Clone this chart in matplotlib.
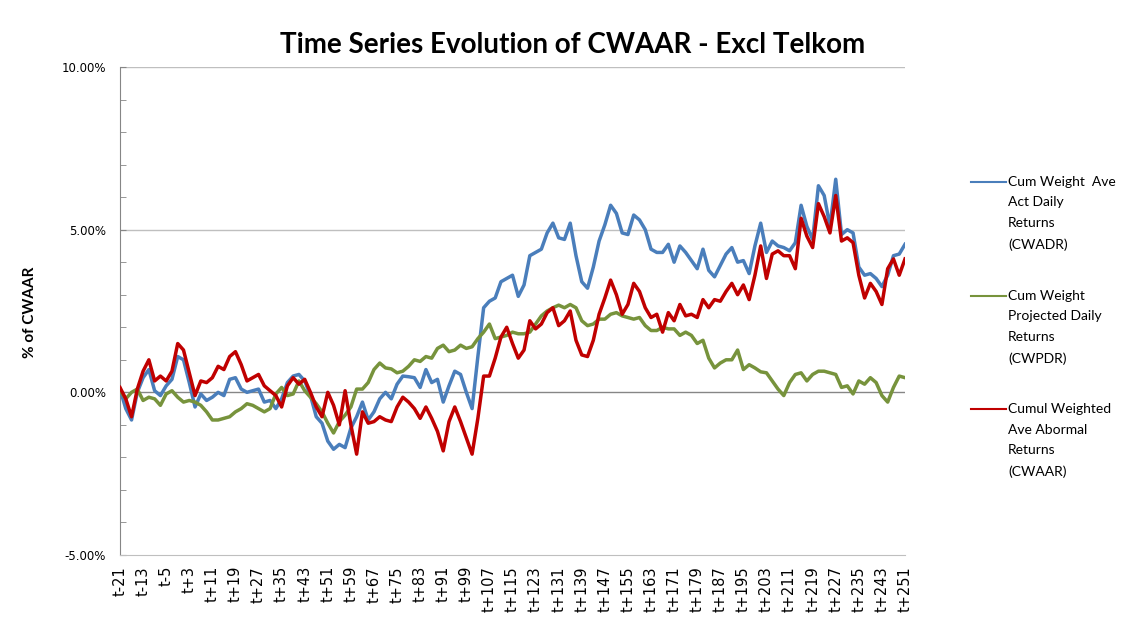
import numpy as np
import matplotlib
matplotlib.use('Agg')
import matplotlib.pyplot as plt
from matplotlib.lines import Line2D

# event days t-21 ... t+251 (read every 2nd day off the chart)
t = np.arange(-21, 252, 2)

# Cum Weight Ave Act Daily Returns (CWADR), %
cwadr = [0.1, -0.5, -0.85, 0.0, 0.45, 0.7, 0.05, -0.1, 0.2, 0.4, 1.1, 1.0, 0.3, -0.45, -0.05, -0.25,
         -0.15, 0.0, -0.1, 0.4, 0.45, 0.1, 0.0,
         0.05, 0.1, -0.3, -0.25, -0.5, -0.2, 0.3, 0.5, 0.55, 0.35, -0.1, -0.75, -0.95, -1.5, -1.75,
         -1.6, -1.7, -1.1, -0.75, -0.3, -0.85, -0.6, -0.2,
         0.0, -0.2, 0.25, 0.5, 0.48, 0.45, 0.15, 0.7, 0.3, 0.4, -0.3, 0.2, 0.65, 0.55, 0.0, -0.5,
         1.1, 2.6, 2.8, 2.9, 3.4, 3.5, 3.6,
         2.95, 3.3, 4.2, 4.3, 4.4, 4.9, 5.2, 4.75, 4.7, 5.2, 4.2, 3.4, 3.2, 3.85, 4.65, 5.15, 5.75,
         5.5, 4.9, 4.85, 5.45, 5.3,
         5.0, 4.4, 4.3, 4.3, 4.55, 4.0, 4.5, 4.3, 4.05, 3.8, 4.4, 3.75, 3.55, 3.9, 4.25, 4.45, 4.0,
         4.05, 3.65, 4.5, 5.2, 4.3,
         4.65, 4.5, 4.45, 4.35, 4.6, 5.75, 5.1, 4.7, 6.35, 6.05, 5.1, 6.55, 4.85, 5.0, 4.9, 3.85,
         3.6, 3.65, 3.5, 3.25, 3.6, 4.2, 4.25, 4.55]

# Cum Weight Projected Daily Returns (CWPDR), %
cwpdr = [0.05, -0.2, 0.0, 0.1, -0.25, -0.15, -0.2, -0.4, -0.05, 0.05, -0.15, -0.3, -0.25, -0.3,
         -0.4, -0.6, -0.85, -0.85, -0.8, -0.75, -0.6, -0.5, -0.35,
         -0.4, -0.5, -0.6, -0.5, -0.05, 0.15, -0.1, -0.05, 0.35, 0.05, -0.15, -0.35, -0.6, -0.95,
         -1.25, -0.9, -0.7, -0.45, 0.1, 0.1, 0.3, 0.7, 0.9,
         0.75, 0.72, 0.6, 0.65, 0.8, 1.0, 0.95, 1.1, 1.05, 1.35, 1.45, 1.25, 1.3, 1.45, 1.35, 1.4,
         1.65, 1.85, 2.1, 1.65, 1.7, 1.75, 1.85,
         1.8, 1.8, 1.85, 2.1, 2.35, 2.5, 2.6, 2.68, 2.6, 2.7, 2.6, 2.2, 2.05, 2.1, 2.25, 2.25, 2.4,
         2.45, 2.35, 2.3, 2.25, 2.3,
         2.05, 1.9, 1.9, 2.0, 1.95, 1.95, 1.75, 1.85, 1.75, 1.5, 1.6, 1.05, 0.75, 0.9, 1.0, 1.0,
         1.3, 0.7, 0.85, 0.75, 0.63, 0.6,
         0.35, 0.1, -0.1, 0.3, 0.55, 0.6, 0.35, 0.55, 0.65, 0.65, 0.6, 0.55, 0.15, 0.2, -0.05, 0.35,
         0.25, 0.45, 0.3, -0.1, -0.3, 0.15, 0.5, 0.45]

# Cumul Weighted Ave Abnormal Returns (CWAAR), %
cwaar = [0.15, -0.2, -0.75, 0.1, 0.65, 1.0, 0.35, 0.5, 0.35, 0.65, 1.5, 1.3, 0.6, -0.1, 0.35, 0.3,
         0.45, 0.8, 0.7, 1.1, 1.25, 0.85, 0.35,
         0.45, 0.55, 0.2, 0.05, -0.1, -0.45, 0.2, 0.45, 0.25, 0.4, 0.0, -0.45, -0.75, 0.0, -0.4,
         -1.0, 0.05, -1.0, -1.9, -0.6, -0.95, -0.9, -0.75,
         -0.85, -0.9, -0.45, -0.15, -0.3, -0.5, -0.8, -0.45, -0.8, -1.2, -1.8, -0.9, -0.45, -0.9,
         -1.4, -1.9, -0.8, 0.5, 0.5, 1.05, 1.7, 2.0, 1.5,
         1.05, 1.3, 2.2, 1.95, 2.1, 2.45, 2.6, 2.05, 2.2, 2.5, 1.6, 1.15, 1.1, 1.6, 2.4, 2.9, 3.45,
         3.0, 2.4, 2.7, 3.35, 3.1,
         2.6, 2.3, 2.4, 1.85, 2.45, 2.2, 2.7, 2.35, 2.4, 2.3, 2.85, 2.6, 2.85, 2.8, 3.1, 3.35, 3.0,
         3.3, 2.85, 3.6, 4.5, 3.5,
         4.25, 4.35, 4.2, 4.2, 3.8, 5.35, 4.8, 4.45, 5.8, 5.4, 4.9, 6.05, 4.65, 4.75, 4.6, 3.6,
         2.9, 3.35, 3.1, 2.7, 3.8, 4.1, 3.6, 4.1]

labels = ['Cum Weight  Ave\nAct Daily\nReturns\n(CWADR)',
          'Cum Weight\nProjected Daily\nReturns\n(CWPDR)',
          'Cumul Weighted\nAve Abormal\nReturns\n(CWAAR)']
colors = ['#4A7EBB', '#77933C', '#C00000']

W, H = 1134, 619
fig = plt.figure(figsize=(W / 100, H / 100), dpi=100)
ax = fig.add_axes([120 / W, 1 - 555 / H, 785 / W, 488 / H])

for y, c in zip([cwadr, cwpdr, cwaar], colors):
    ax.plot(t, y, color=c, lw=2.5, solid_joinstyle='round', zorder=3)

ax.set_xlim(-21, 251)
ax.set_ylim(-5, 10)

# gridlines / axis lines like the Excel chart
for v in (5, 10):
    ax.axhline(v, color='#BFBFBF', lw=1.0, zorder=1)
ax.axhline(0, color='#868686', lw=1.0, zorder=2)

for s in ('top', 'right'):
    ax.spines[s].set_visible(False)
ax.spines['left'].set_color('#868686')
ax.spines['bottom'].set_color('#BFBFBF')

yt = [-5, 0, 5, 10]
ax.set_yticks(yt)
ax.set_yticklabels(['%.2f%%' % v for v in yt], fontsize=8.5, family='DejaVu Sans')
ax.set_yticks(np.arange(-5, 11, 1), minor=True)
ax.tick_params(axis='y', which='both', direction='in', length=4, color='#868686', pad=10)

xt = np.arange(-21, 252, 8)
ax.set_xticks(xt)
ax.set_xticklabels(['t%+d' % v if v != 0 else 't' for v in xt], rotation=90,
                   fontsize=10.5, family='DejaVu Sans')
ax.tick_params(axis='x', length=0, pad=8)

fig.text(0.505, 1 - 45 / H, 'Time Series Evolution of CWAAR - Excl Telkom', ha='center',
         va='center', fontsize=20, fontweight='bold', family='Lato')
fig.text(30 / W, 1 - 312 / H, '% of CWAAR', rotation=90, ha='center', va='center',
         fontsize=11, fontweight='bold', family='Lato')

# legend at the right, sample line next to first text line
for lab, c, ypx in zip(labels, colors, [182, 296, 409]):
    fig.add_artist(Line2D([971 / W, 1006 / W], [1 - ypx / H, 1 - ypx / H], color=c, lw=1.5))
    fig.text(1008 / W, 1 - (ypx - 6) / H, lab, ha='left', va='top', fontsize=10,
             family='Lato', linespacing=1.85)

fig.savefig('out.png', dpi=100)
